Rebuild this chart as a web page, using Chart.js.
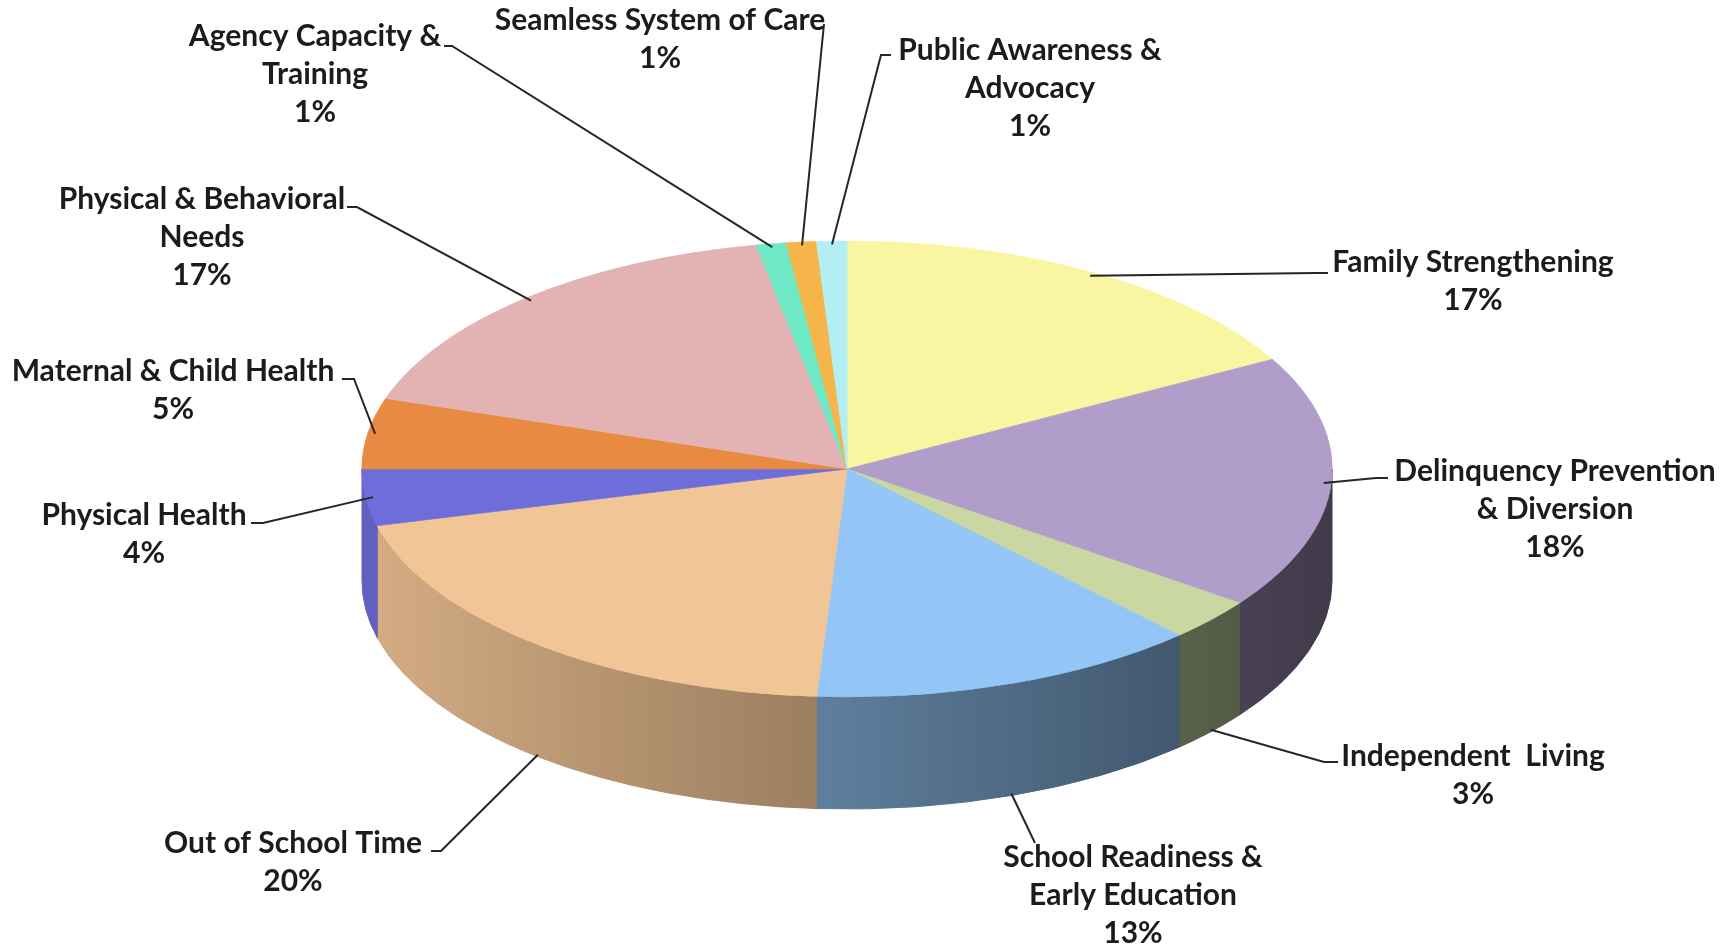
<!DOCTYPE html>
<html>
<head>
<meta charset="utf-8">
<script src="https://cdn.jsdelivr.net/npm/chart.js@4/dist/chart.umd.min.js"></script>
<style>
  html, body { margin: 0; padding: 0; background: #ffffff; overflow: hidden; }
  #c { display: block; }
</style>
</head>
<body>
<canvas id="c" width="1733" height="950"></canvas>
<script>
// ---------------- data ----------------
const categories = [
  "Family Strengthening",
  "Delinquency Prevention & Diversion",
  "Independent Living",
  "School Readiness & Early Education",
  "Out of School Time",
  "Physical Health",
  "Maternal & Child Health",
  "Physical & Behavioral Needs",
  "Agency Capacity & Training",
  "Seamless System of Care",
  "Public Awareness & Advocacy"
];
const labelLines = [
  ["Family Strengthening"],
  ["Delinquency Prevention", "& Diversion"],
  ["Independent  Living"],
  ["School Readiness &", "Early Education"],
  ["Out of School Time"],
  ["Physical Health"],
  ["Maternal & Child Health"],
  ["Physical & Behavioral", "Needs"],
  ["Agency Capacity &", "Training"],
  ["Seamless System of Care"],
  ["Public Awareness &", "Advocacy"]
];
const shares = [17, 18, 3, 13, 20, 4, 5, 17, 1, 1, 1];
const sliceColors = [
  "#FAF5A0", "#B19DC9", "#C9D8A3", "#93C6F6", "#F2C596", "#6E6EDB",
  "#E98A42", "#E3B3B3", "#6FE8C6", "#F5B54A", "#B3EEF3"
];

// ---------------- layout ----------------
const PIE = { cx: 847, cy: 469, rx: 485, ry: 228, depth: 112 };
const FONT = "bold 30px Lato";
const LINE_H = 38;
const labelLayout = [
  { x: 1473, y: 262, end: [1328, 273], hook: -12 },
  { x: 1555, y: 471, end: [1388, 478], hook: -12 },
  { x: 1473, y: 756, end: [1338, 762], hook: -14 },
  { x: 1133, y: 857, end: [1035, 843], hook: 0 },
  { x: 293,  y: 843, end: [431, 851],  hook: 10 },
  { x: 144,  y: 515, end: [251, 523],  hook: 12 },
  { x: 173,  y: 371, end: [342, 379],  hook: 12 },
  { x: 202,  y: 199, end: [347, 207],  hook: 10 },
  { x: 315,  y: 36,  end: [444, 46],   hook: 8 },
  { x: 660,  y: 20,  end: [824, 24],   hook: 0 },
  { x: 1030, y: 50,  end: [891, 55],   hook: -10 }
];

// ---------------- helpers ----------------
function hexToRgb(h) {
  const n = parseInt(h.slice(1), 16);
  return [(n >> 16) & 255, (n >> 8) & 255, n & 255];
}
function shade(h, f) {
  const [r, g, b] = hexToRgb(h);
  return `rgb(${Math.round(r * f)},${Math.round(g * f)},${Math.round(b * f)})`;
}

const pie3d = {
  id: "pie3d",
  beforeDatasetsDraw(chart) {
    const ctx = chart.ctx;
    const meta = chart.getDatasetMeta(0);
    const { cx, cy, rx, ry, depth } = PIE;
    // side walls (front half only)
    meta.data.forEach((arc, i) => {
      const { startAngle, endAngle } = arc.getProps(["startAngle", "endAngle"], true);
      const a = Math.max(startAngle, 0), b = Math.min(endAngle, Math.PI);
      if (b <= a) return;
      const col = sliceColors[i];
      const g = ctx.createLinearGradient(cx - rx, 0, cx + rx, 0);
      g.addColorStop(0, shade(col, 0.88));
      g.addColorStop(1, shade(col, 0.37));
      ctx.save();
      ctx.beginPath();
      ctx.ellipse(cx, cy, rx, ry, 0, a, b, false);
      ctx.lineTo(cx + rx * Math.cos(b), cy + ry * Math.sin(b) + depth);
      ctx.ellipse(cx, cy + depth, rx, ry, 0, b, a, true);
      ctx.closePath();
      ctx.fillStyle = g;
      ctx.fill();
      ctx.strokeStyle = g;
      ctx.lineWidth = 1;
      ctx.stroke();
      ctx.restore();
    });
    // flatten the top face
    const ref = meta.data[0];
    const r0 = ref.outerRadius;
    ctx.save();
    ctx.translate(cx, cy);
    ctx.scale(rx / r0, ry / r0);
    ctx.translate(-ref.x, -ref.y);
  },
  afterDatasetsDraw(chart) {
    chart.ctx.restore();
  },
  afterDraw(chart) {
    const ctx = chart.ctx;
    const meta = chart.getDatasetMeta(0);
    const { cx, cy, rx, ry, depth } = PIE;
    const total = shares.reduce((s, v) => s + v, 0);
    ctx.save();
    meta.data.forEach((arc, i) => {
      const { startAngle, endAngle } = arc.getProps(["startAngle", "endAngle"], true);
      const mid = (startAngle + endAngle) / 2;
      const s = Math.sin(mid);
      let ax = cx + rx * 0.985 * Math.cos(mid);
      let ay = cy + ry * 0.985 * s;
      if (s > 0.3) { ax = cx + rx * Math.cos(mid); ay = cy + ry * s + depth - 2; }
      const L = labelLayout[i];
      const [ex, ey] = L.end;
      ctx.beginPath();
      ctx.moveTo(ax, ay);
      if (L.hook) { ctx.lineTo(ex + L.hook, ey); }
      ctx.lineTo(ex, ey);
      ctx.strokeStyle = "#262626";
      ctx.lineWidth = 2;
      ctx.stroke();
      // text
      const lines = labelLines[i].concat([Math.round(shares[i] / total * 100) + "%"]);
      ctx.font = FONT;
      ctx.fillStyle = "#1c1c1c";
      ctx.textAlign = "center";
      ctx.textBaseline = "middle";
      lines.forEach((t, k) => ctx.fillText(t, L.x, L.y + k * LINE_H));
    });
    ctx.restore();
  }
};

new Chart(document.getElementById("c").getContext("2d"), {
  type: "pie",
  data: {
    labels: categories,
    datasets: [{
      data: shares,
      backgroundColor: sliceColors,
      borderColor: sliceColors,
      borderWidth: 1
    }]
  },
  options: {
    responsive: false,
    animation: false,
    events: [],
    plugins: { legend: { display: false }, tooltip: { enabled: false } }
  },
  plugins: [pie3d]
});
</script>
</body>
</html>
